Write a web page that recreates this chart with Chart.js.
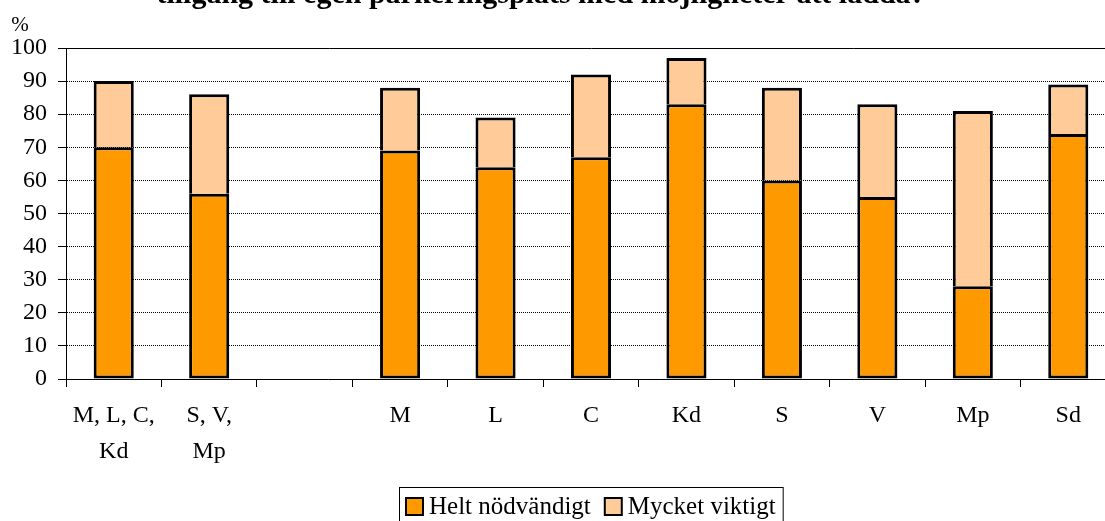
<!DOCTYPE html>
<html>
<head>
<meta charset="utf-8">
<script src="https://cdn.jsdelivr.net/npm/chart.js@4/dist/chart.umd.min.js"></script>
<style>
  html, body { margin: 0; padding: 0; background: #fff; overflow: hidden; }
  #wrap { position: absolute; left: 0; top: 0; width: 1130px; height: 521px; }
</style>
</head>
<body>
<div id="wrap"><canvas id="chart"></canvas></div>
<script>
// Chart data
const titleText = 'tillgång till egen parkeringsplats med möjligheter att ladda?';
const categories = [['M, L, C,', 'Kd'], ['S, V,', 'Mp'], '', 'M', 'L', 'C', 'Kd', 'S', 'V', 'Mp', 'Sd'];
const heltNodvandigt = [70, 56, null, 69, 64, 67, 83, 60, 55, 28, 74];
const mycketViktigt = [20, 30, null, 19, 15, 25, 14, 28, 28, 53, 15];
const seriesLabels = ['Helt nödvändigt', 'Mycket viktigt'];
const seriesColors = ['#FF9900', '#FFCC99'];
const yTicks = [0, 10, 20, 30, 40, 50, 60, 70, 80, 90, 100];

const serif = '"Liberation Serif", "Times New Roman", serif';

// Title, % label and boxed legend drawn on top of the chart
const overlayPlugin = {
  id: 'overlay',
  afterDraw(chart) {
    const ctx = chart.ctx;
    const area = chart.chartArea;
    ctx.save();
    ctx.fillStyle = '#000';

    // title (its upper part lies outside the picture)
    ctx.font = 'bold 30px ' + serif;
    ctx.textAlign = 'center';
    ctx.textBaseline = 'alphabetic';
    ctx.fillText(titleText, 541, 3);

    // unit label
    ctx.font = '21px ' + serif;
    ctx.fillText('%', 20, 31);

    // legend
    ctx.font = '25px ' + serif;
    const sq = 17, gapBox = 6, gapItem = 14, pad = 7;
    const widths = seriesLabels.map(t => ctx.measureText(t).width);
    let total = pad * 2;
    widths.forEach((w, i) => { total += sq + gapBox + w + (i < widths.length - 1 ? gapItem : 0); });
    const cx = (area.left + area.right) / 2;
    const left = Math.round(cx - total / 2);
    const top = 487;
    ctx.strokeStyle = '#000';
    ctx.lineWidth = 1;
    ctx.strokeRect(left + 0.5, top + 0.5, total, 60);

    let x = left + pad;
    ctx.textAlign = 'left';
    seriesLabels.forEach((t, i) => {
      ctx.fillStyle = seriesColors[i];
      ctx.fillRect(x, 498, sq, sq);
      ctx.lineWidth = 2;
      ctx.strokeStyle = '#000';
      ctx.strokeRect(x, 498, sq, sq);
      ctx.fillStyle = '#000';
      ctx.fillText(t, x + sq + gapBox, 514);
      x += sq + gapBox + widths[i] + gapItem;
    });
    ctx.restore();
  }
};

const ctx = document.getElementById('chart').getContext('2d');
const chart = new Chart(ctx, {
  type: 'bar',
  data: {
    labels: categories,
    datasets: [
      {
        label: seriesLabels[0],
        data: heltNodvandigt,
        backgroundColor: seriesColors[0],
        borderColor: '#000',
        borderWidth: { top: 3, left: 3, right: 3, bottom: 3 },
        borderSkipped: false,
        barPercentage: 0.42,
        categoryPercentage: 1
      },
      {
        label: seriesLabels[1],
        data: mycketViktigt,
        backgroundColor: seriesColors[1],
        borderColor: '#000',
        borderWidth: { top: 3, left: 3, right: 3, bottom: 0 },
        borderSkipped: false,
        barPercentage: 0.42,
        categoryPercentage: 1
      }
    ]
  },
  options: {
    responsive: true,
    maintainAspectRatio: false,
    animation: false,
    layout: {
      padding: { top: 48, left: 0, right: 14, bottom: 0 }
    },
    scales: {
      x: {
        stacked: true,
        afterFit: function(scale) { scale.height = 142; },
        grid: {
          display: true,
          drawOnChartArea: false,
          drawTicks: true,
          tickLength: 8,
          tickColor: '#000',
          tickWidth: 1,
          color: '#000'
        },
        border: { display: true, color: '#000', width: 1 },
        ticks: {
          color: '#000',
          padding: 11,
          maxRotation: 0,
          autoSkip: false,
          font: { family: serif, size: 24, lineHeight: 1.5 }
        }
      },
      y: {
        stacked: true,
        min: 0,
        max: 100,
        afterFit: function(scale) { scale.width = 66; },
        afterBuildTicks: function(scale) {
          scale.ticks = yTicks.map(v => ({ value: v }));
        },
        grid: {
          color: '#000',
          lineWidth: 1,
          drawTicks: true,
          tickLength: 8,
          tickColor: '#000',
          tickBorderDash: []
        },
        border: {
          display: true,
          color: '#000',
          width: 1,
          dash: function(c) { return (c.tick && c.tick.value === 100) ? [] : [1, 1]; }
        },
        ticks: {
          color: '#000',
          padding: 11,
          font: { family: serif, size: 24 }
        }
      }
    },
    plugins: {
      legend: { display: false },
      title: { display: false },
      tooltip: { enabled: false }
    }
  },
  plugins: [overlayPlugin]
});
</script>
</body>
</html>
